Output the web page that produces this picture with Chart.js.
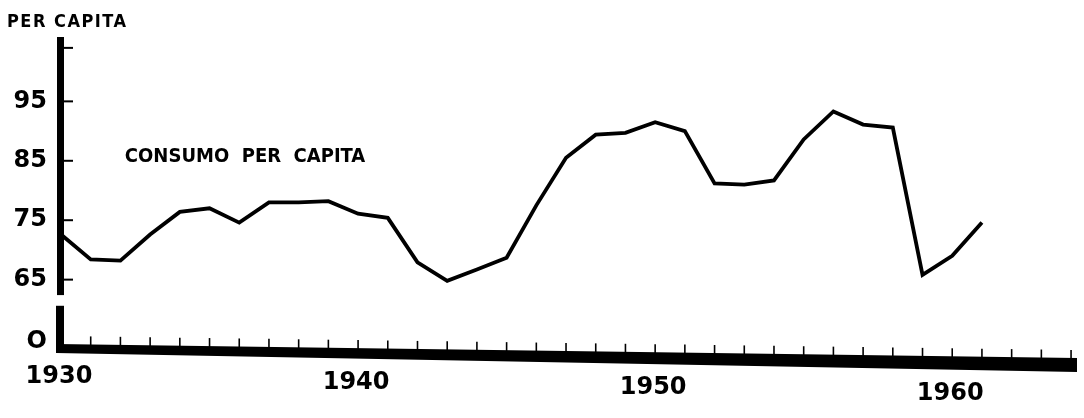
<!DOCTYPE html>
<html>
<head>
<meta charset="utf-8">
<script src="https://cdn.jsdelivr.net/npm/chart.js@4.4.1/dist/chart.umd.min.js"></script>
<style>
  html, body { margin: 0; padding: 0; background: #fff; }
  #wrap { width: 1084px; height: 418px; }
</style>
</head>
<body>
<div id="wrap"><canvas id="chart"></canvas></div>
<script>
// data
const years = [1930, 1931, 1932, 1933, 1934, 1935, 1936, 1937, 1938, 1939,
               1940, 1941, 1942, 1943, 1944, 1945, 1946, 1947, 1948, 1949,
               1950, 1951, 1952, 1953, 1954, 1955, 1956, 1957, 1958, 1959,
               1960, 1961];
const consumo = [72.6, 68.4, 68.2, 72.6, 76.4, 77.0, 74.6, 78.0, 78.0, 78.2,
                 76.1, 75.4, 67.9, 64.8, 66.7, 68.7, 77.5, 85.5, 89.4, 89.7,
                 91.5, 90.0, 81.2, 81.0, 81.7, 88.6, 93.3, 91.1, 90.6, 65.8,
                 69.0, 74.6];

// y axis is broken: the "0" sits just above the year axis
const yTickValues = [54.6, 65, 75, 85, 95, 104];
const yTickLabels = ['O', '65', '75', '85', '95', ''];
const xTickValues = [1930, 1940, 1950, 1960];
const xTickLabels = ['1930', '1940', '1950', '1960'];
const yearMarks = [];
for (let yr = 1931; yr <= 1964; yr++) yearMarks.push(yr);

const seriesLabel = 'CONSUMO  PER  CAPITA';
const axisTitle = 'PER CAPITA';

const FONT = '"DejaVu Sans", sans-serif';
const NARROW = '"DejaVu Sans Condensed", "DejaVu Sans", sans-serif';

// draws the hand-drawn looking axes, tick marks, year labels and captions
const oldAxes = {
    id: 'oldAxes',
    afterDraw(chart) {
        const { ctx, chartArea, scales: { x, y } } = chart;
        const x0 = x.getPixelForValue(1930);
        const bot = chartArea.bottom;
        const right = chartArea.right;
        ctx.save();
        ctx.fillStyle = '#000';
        ctx.strokeStyle = '#000';

        // vertical axis, upper part and the short piece below the break
        const top = chartArea.top + 1;
        const breakA = y.getPixelForValue(62.4);
        const breakB = y.getPixelForValue(60.6);
        ctx.fillRect(x0 - 4, top, 7, breakA - top);
        ctx.fillRect(x0 - 5, breakB, 8, bot - breakB + 4);

        ctx.lineWidth = 2;
        yTickValues.slice(1).forEach(v => {
            const p = y.getPixelForValue(v);
            ctx.beginPath();
            ctx.moveTo(x0, p);
            ctx.lineTo(x0 + 12, p);
            ctx.stroke();
        });

        // year axis: thick band, slightly tilted like the scan
        const topEdge = px => (bot - 1) + (px - x0) / (right - x0) * 14;
        const botEdge = px => (bot + 8) + (px - x0) / (right - x0) * 19;
        ctx.beginPath();
        ctx.moveTo(x0 - 5, topEdge(x0 - 5));
        ctx.lineTo(right, topEdge(right));
        ctx.lineTo(right, botEdge(right));
        ctx.lineTo(x0 - 5, botEdge(x0 - 5));
        ctx.closePath();
        ctx.fill();

        ctx.lineWidth = 1.6;
        yearMarks.forEach(yr => {
            const p = x.getPixelForValue(yr);
            const b = topEdge(p);
            ctx.beginPath();
            ctx.moveTo(p, b + 1);
            ctx.lineTo(p, b - 8);
            ctx.stroke();
        });

        // year labels follow the tilt of the axis
        ctx.textBaseline = 'middle';
        ctx.textAlign = 'center';
        ctx.font = 'bold 24px ' + FONT;
        xTickValues.forEach((v, i) => {
            const p = x.getPixelForValue(v);
            ctx.fillText(xTickLabels[i], p - 2, botEdge(p) + 24);
        });

        // captions
        ctx.textAlign = 'left';
        ctx.letterSpacing = '1.5px';
        ctx.font = 'bold 18px ' + NARROW;
        ctx.fillText(axisTitle, 7, 22);
        ctx.letterSpacing = '0px';
        ctx.font = 'bold 20px ' + NARROW;
        ctx.fillText(seriesLabel, x.getPixelForValue(1932.15), y.getPixelForValue(85.7));
        ctx.restore();
    }
};

const ctx = document.getElementById('chart').getContext('2d');
new Chart(ctx, {
    type: 'line',
    data: {
        datasets: [{
            label: seriesLabel,
            data: years.map((yr, i) => ({ x: yr, y: consumo[i] })),
            borderColor: '#000',
            borderWidth: 3.8,
            pointRadius: 0,
            tension: 0,
            fill: false,
            clip: false
        }]
    },
    options: {
        responsive: true,
        maintainAspectRatio: false,
        animation: false,
        layout: {
            padding: { top: 36, right: 7, left: 0, bottom: 0 }
        },
        plugins: {
            legend: { display: false },
            tooltip: { enabled: false }
        },
        scales: {
            x: {
                type: 'linear',
                min: 1930,
                max: 1964.2,
                afterBuildTicks: s => { s.ticks = xTickValues.map(v => ({ value: v })); },
                afterFit: s => { s.height = 73; },
                grid: { display: false, drawTicks: false },
                border: { display: false },
                ticks: { display: false }
            },
            y: {
                type: 'linear',
                min: 54,
                max: 106,
                afterBuildTicks: s => { s.ticks = yTickValues.map(v => ({ value: v })); },
                afterFit: s => { s.width = 61; },
                grid: { display: false, drawTicks: false },
                border: { display: false },
                ticks: {
                    callback: (v, i) => yTickLabels[i],
                    color: '#000',
                    padding: 14,
                    font: { family: FONT, size: 24, weight: 'bold' }
                }
            }
        }
    },
    plugins: [oldAxes]
});
</script>
</body>
</html>
